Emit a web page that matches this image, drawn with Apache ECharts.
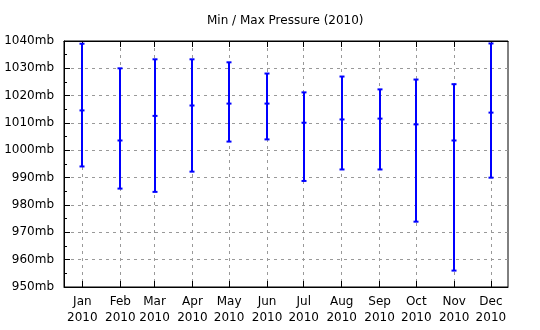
<!DOCTYPE html>
<html>
<head>
<meta charset="utf-8">
<script src="https://cdn.jsdelivr.net/npm/echarts@6/dist/echarts.min.js"></script>
<style>html,body{margin:0;padding:0;background:#fff}#c{width:540px;height:330px}</style>
</head>
<body>
<div id="c"></div>
<script>
var months = ['Jan','Feb','Mar','Apr','May','Jun','Jul','Aug','Sep','Oct','Nov','Dec'];
var year = 2010;
var maxVals  = [1039.0, 1030.0, 1033.3, 1033.3, 1032.2, 1028.1, 1021.2, 1027.0, 1022.3, 1025.9, 1024.2, 1039.1];
var meanVals = [1014.6, 1003.6, 1012.6, 1016.4, 1017.1, 1017.1, 1010.1, 1011.3, 1011.6, 1009.5, 1003.6, 1013.8];
var minVals  = [994.1, 986.0, 984.8, 992.2, 1003.2, 1004.0, 988.8, 993.0, 993.0, 973.9, 956.0, 990.0];
var yTicks = [950, 960, 970, 980, 990, 1000, 1010, 1020, 1030, 1040];

var DAY = 86400000;
function dayNum(y, m, d) { return Date.UTC(y, m, d) / DAY; }
var monthDays = months.map(function (m, i) { return dayNum(year, i, 1); });
var data = months.map(function (m, i) { return [monthDays[i], minVals[i], meanVals[i], maxVals[i]]; });
var xMin = dayNum(year - 1, 11, 17);
var xMax = dayNum(year, 11, 15);
var font = 'DejaVu Sans';

var chart = echarts.init(document.getElementById('c'), null, {renderer: 'canvas'});
chart.setOption({
  animation: false,
  backgroundColor: '#fff',
  title: {
    text: 'Min / Max Pressure (2010)',
    left: 202, top: 10,
    textStyle: {fontFamily: font, fontSize: 12, fontWeight: 'normal', color: '#000'}
  },
  grid: {left: 64, top: 41, width: 444, height: 246, show: true, borderColor: '#000', borderWidth: 1, backgroundColor: 'transparent'},
  xAxis: [{
    type: 'value', min: xMin, max: xMax,
    axisLine: {show: true, lineStyle: {color: '#000', width: 1}},
    axisTick: {show: true, inside: true, length: 6, lineStyle: {color: '#000'}, customValues: monthDays},
    axisLabel: {
      customValues: monthDays, margin: 7,
      fontFamily: font, fontSize: 12, color: '#000', lineHeight: 16,
      formatter: function (v) { var d = new Date(v * DAY); return months[d.getUTCMonth()] + '\n' + d.getUTCFullYear(); }
    },
    splitLine: {show: true, lineStyle: {color: '#999', type: [3, 4], width: 1}}
  }, {
    type: 'value', min: xMin, max: xMax, position: 'top',
    axisLine: {show: true, lineStyle: {color: '#000'}},
    axisTick: {show: true, inside: true, length: 6, lineStyle: {color: '#000'}, customValues: monthDays},
    axisLabel: {show: false},
    splitLine: {show: false}
  }],
  yAxis: {
    type: 'value', min: 950, max: 1040, interval: 10,
    axisLine: {show: true, lineStyle: {color: '#000'}},
    axisTick: {show: true, inside: true, length: 6, lineStyle: {color: '#000'}},
    minorTick: {show: true, splitNumber: 2, length: 3, lineStyle: {color: '#000'}},
    axisLabel: {fontFamily: font, fontSize: 12, color: '#000', margin: 10, formatter: function (v) { return yTicks.indexOf(v) >= 0 ? v + 'mb' : ''; }},
    splitLine: {show: true, lineStyle: {color: '#999', type: [3, 4], width: 1}}
  },
  series: [{
    type: 'custom',
    xAxisIndex: 0,
    encode: {x: 0, y: [1, 2, 3]},
    data: data,
    renderItem: function (params, api) {
      var x = api.value(0);
      var pLo = api.coord([x, api.value(1)]);
      var pMid = api.coord([x, api.value(2)]);
      var pHi = api.coord([x, api.value(3)]);
      var cx = Math.round(pLo[0]);
      var hw = 2.5;
      var st = {stroke: '#0000ff', lineWidth: 2};
      function cap(p) { return {type: 'line', shape: {x1: cx - hw, y1: p[1], x2: cx + hw, y2: p[1]}, style: st}; }
      return {type: 'group', children: [
        {type: 'line', shape: {x1: cx, y1: pLo[1], x2: cx, y2: pHi[1]}, style: st},
        cap(pLo), cap(pMid), cap(pHi)
      ]};
    }
  }]
});
</script>
</body>
</html>
